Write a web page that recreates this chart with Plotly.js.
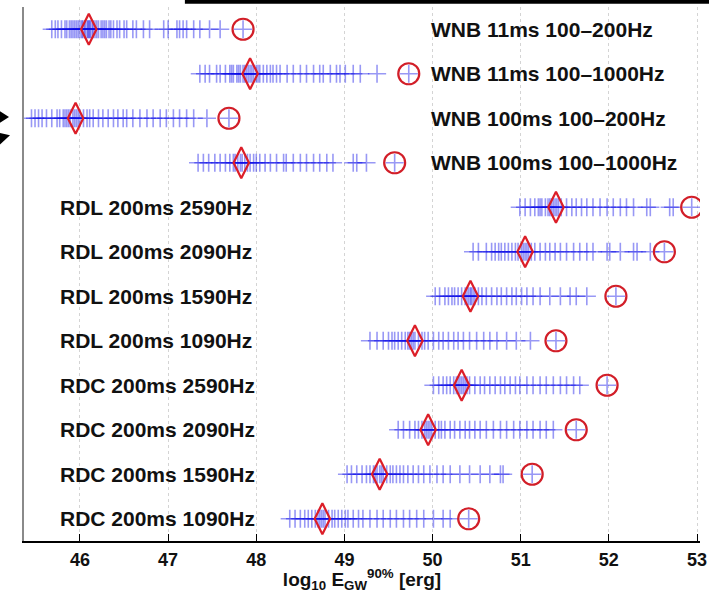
<!DOCTYPE html>
<html>
<head>
<meta charset="utf-8">
<script src="https://cdn.plot.ly/plotly-3.0.1.min.js"></script>
<style>html,body{margin:0;padding:0;background:#fff;}#chart{width:709px;height:593px;}</style>
</head>
<body>
<div id="chart"></div>
<script>
// Row labels, top to bottom
const rowLabels = [
  "WNB 11ms 100–200Hz",
  "WNB 11ms 100–1000Hz",
  "WNB 100ms 100–200Hz",
  "WNB 100ms 100–1000Hz",
  "RDL 200ms 2590Hz",
  "RDL 200ms 2090Hz",
  "RDL 200ms 1590Hz",
  "RDL 200ms 1090Hz",
  "RDC 200ms 2590Hz",
  "RDC 200ms 2090Hz",
  "RDC 200ms 1590Hz",
  "RDC 200ms 1090Hz"
];

// Individual trial values (log10 E_GW^90% [erg]) per row
const wnb11_200 = [45.68,45.72,45.75,45.79,45.83,45.85,45.88,45.90,45.92,45.94,45.96,45.98,46.00,46.02,46.03,46.05,46.06,46.08,46.09,46.10,46.11,46.12,46.14,46.15,46.17,46.19,46.21,46.24,46.26,46.28,46.30,46.33,46.35,46.38,46.42,46.45,46.50,46.53,46.60,46.64,46.72,46.79,46.95,47.00,47.10,47.13,47.17,47.21,47.29,47.36,47.47,47.59];
const wnb11_1000 = [47.36,47.42,47.47,47.55,47.59,47.65,47.70,47.72,47.74,47.78,47.80,47.82,47.85,47.87,47.89,47.91,47.93,47.95,47.97,48.00,48.02,48.04,48.08,48.12,48.16,48.19,48.23,48.27,48.35,48.42,48.50,48.57,48.65,48.72,48.76,48.84,48.91,48.95,49.01,49.10,49.18,49.37];
const wnb100_200 = [45.45,45.49,45.53,45.57,45.62,45.68,45.74,45.77,45.81,45.83,45.85,45.87,45.89,45.92,45.94,45.96,45.98,46.00,46.04,46.08,46.11,46.15,46.21,46.26,46.32,46.38,46.43,46.49,46.53,46.60,46.68,46.76,46.83,46.91,46.98,47.06,47.13,47.21,47.29,47.44];
const wnb100_1000 = [47.34,47.40,47.46,47.53,47.59,47.65,47.70,47.74,47.76,47.79,47.82,47.84,47.87,47.90,47.93,47.97,48.00,48.04,48.10,48.16,48.23,48.31,48.34,48.42,48.50,48.57,48.65,48.72,48.80,48.87,49.10,49.14,49.25];
const rdl2590 = [50.99,51.05,51.11,51.16,51.20,51.22,51.24,51.28,51.31,51.33,51.35,51.37,51.39,51.41,51.43,51.46,51.52,51.58,51.63,51.69,51.75,51.82,51.90,51.98,52.05,52.13,52.20,52.28,52.43,52.47,52.69,52.73];
const rdl2090 = [50.46,50.52,50.61,50.67,50.71,50.75,50.78,50.82,50.86,50.90,50.94,50.97,51.01,51.03,51.05,51.07,51.09,51.12,51.16,51.22,51.28,51.33,51.39,51.45,51.52,51.60,51.67,51.75,51.82,51.98,52.01,52.13,52.28,52.32,52.47];
const rdl1590 = [50.03,50.08,50.14,50.18,50.22,50.25,50.29,50.33,50.37,50.39,50.41,50.43,50.44,50.46,50.48,50.52,50.56,50.61,50.67,50.73,50.78,50.84,50.90,50.95,51.01,51.07,51.14,51.22,51.33,51.45,51.56,51.63,51.75];
const rdl1090 = [49.29,49.37,49.44,49.50,49.54,49.57,49.61,49.65,49.69,49.72,49.74,49.76,49.78,49.80,49.84,49.88,49.91,49.95,50.01,50.07,50.12,50.18,50.24,50.29,50.35,50.42,50.50,50.58,50.65,50.73,50.84,50.95,51.11];
const rdc2590 = [50.01,50.07,50.12,50.16,50.20,50.24,50.27,50.29,50.31,50.33,50.35,50.37,50.39,50.42,50.48,50.54,50.59,50.65,50.71,50.77,50.82,50.88,50.94,50.99,51.07,51.14,51.22,51.29,51.37,51.45,51.52,51.60,51.67];
const rdc2090 = [49.61,49.67,49.74,49.80,49.84,49.88,49.91,49.93,49.95,49.97,49.99,50.03,50.07,50.10,50.14,50.20,50.25,50.31,50.37,50.42,50.48,50.54,50.61,50.69,50.77,50.84,50.92,50.99,51.07,51.14,51.22,51.29,51.37];
const rdc1590 = [49.03,49.08,49.14,49.20,49.25,49.29,49.33,49.35,49.37,49.40,49.42,49.44,49.48,49.52,49.55,49.59,49.63,49.67,49.72,49.78,49.84,49.90,49.97,50.05,50.12,50.20,50.31,50.42,50.54,50.65,50.77,50.80];
const rdc1090 = [48.38,48.44,48.50,48.55,48.59,48.63,48.67,48.70,48.72,48.74,48.76,48.78,48.82,48.86,48.89,48.93,48.97,49.01,49.04,49.10,49.16,49.21,49.29,49.37,49.44,49.52,49.59,49.67,49.74,49.82,49.90,50.01,50.12,50.20];

// Median (diamond) and loudest (circle) per row
const medians = [46.10, 47.93, 45.95, 47.83, 51.40, 51.05, 50.43, 49.80, 50.33, 49.95, 49.40, 48.75];
const loudest = [47.85, 49.73, 47.69, 49.57, 52.94, 52.63, 52.08, 51.40, 51.98, 51.63, 51.13, 50.41];

const xTicks = [46, 47, 48, 49, 50, 51, 52, 53];

const rows = [wnb11_200, wnb11_1000, wnb100_200, wnb100_1000, rdl2590, rdl2090, rdl1590, rdl1090, rdc2590, rdc2090, rdc1590, rdc1090];
const nRows = rowLabels.length;
const yOf = i => nRows - i;

const cx = [], cy = [];
rows.forEach((arr, i) => {
  arr.concat([loudest[i]]).forEach(v => { cx.push(v); cy.push(yOf(i)); });
});

const FONT = 'Liberation Sans, Arial, sans-serif';

const traces = [
  {
    type: 'scatter', mode: 'markers', x: cx, y: cy, hoverinfo: 'skip',
    marker: { symbol: 'cross-thin-open', size: 13, color: 'rgba(10,10,230,0.42)',
              line: { color: 'rgba(10,10,230,0.42)', width: 1.6 } }
  },
  {
    type: 'scatter', mode: 'markers', x: medians, y: medians.map((_, i) => yOf(i)), hoverinfo: 'skip',
    marker: { symbol: 'diamond-tall-open', size: 22, color: 'rgb(220,30,40)',
              line: { color: 'rgb(220,30,40)', width: 2.2 } }
  },
  {
    type: 'scatter', mode: 'markers', x: loudest, y: loudest.map((_, i) => yOf(i)), hoverinfo: 'skip',
    marker: { symbol: 'circle-open', size: 21, color: 'rgb(210,30,40)',
              line: { color: 'rgb(210,30,40)', width: 2.2 } }
  }
];

const annotations = rowLabels.map((t, i) => ({
  x: t.startsWith('WNB') ? 49.955 : 45.745,
  y: yOf(i), xref: 'x', yref: 'y', xanchor: 'left', yanchor: 'middle',
  text: t, showarrow: false,
  font: { family: FONT, size: 21, color: '#111', weight: 'bold' }
}));

const layout = {
  width: 709, height: 593,
  margin: { l: 24, r: 9, t: 7, b: 52 },
  paper_bgcolor: '#fff', plot_bgcolor: '#fff',
  showlegend: false,
  xaxis: {
    range: [45.365, 53.034], tickvals: xTicks, ticktext: xTicks.map(String),
    ticks: 'inside', ticklen: 7, tickcolor: '#000', tickwidth: 1,
    ticklabelstandoff: 2,
    showline: true, linecolor: '#000', linewidth: 1.5,
    showgrid: true, gridcolor: '#d4d4d4', griddash: 'dot', gridwidth: 1,
    zeroline: false,
    tickfont: { family: FONT, size: 18, color: '#111', weight: 'bold' },
    title: { text: 'log<sub>10</sub> E<sub>GW</sub><sup>90%</sup> [erg]', standoff: 6,
             font: { family: FONT, size: 19, color: '#111', weight: 'bold' } }
  },
  yaxis: {
    range: [0.5, nRows + 0.5], showticklabels: false, ticks: '', showgrid: false, zeroline: false,
    showline: true, linecolor: '#8a8a8a', linewidth: 2
  },
  annotations: annotations,
  shapes: [
    { type: 'rect', xref: 'paper', yref: 'paper', x0: 0.238, x1: 1.02, y0: 1.006, y1: 1.02,
      fillcolor: '#000', line: { width: 0 } },
    { type: 'path', xref: 'paper', yref: 'paper',
      path: 'M -0.036 0.805 L -0.0222 0.794 L -0.036 0.783 Z', fillcolor: '#000', line: { width: 0 } },
    { type: 'path', xref: 'paper', yref: 'paper',
      path: 'M -0.036 0.764 L -0.0207 0.760 L -0.036 0.742 Z', fillcolor: '#000', line: { width: 0 } }
  ]
};

Plotly.newPlot('chart', traces, layout, { staticPlot: true, displayModeBar: false });
</script>
</body>
</html>
